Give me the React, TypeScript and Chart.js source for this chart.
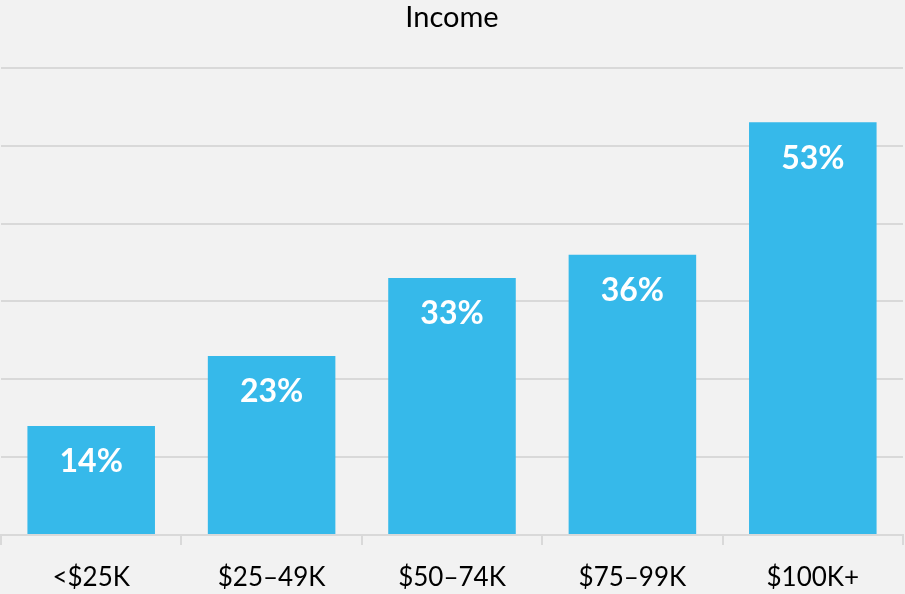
import React, { useEffect, useRef } from "react";
import { Chart, registerables } from "chart.js";

Chart.register(...registerables);

const categories = ["<$25K", "$25–49K", "$50–74K", "$75–99K", "$100K+"];
const values = [14, 23, 33, 36, 53];
const valueLabels = ["14%", "23%", "33%", "36%", "53%"];
const chartTitle = "Income";

const FONT = "Lato, 'Open Sans', sans-serif";

const barLabelPlugin = {
  id: "barLabels",
  afterDatasetsDraw(chart: any) {
    const ctx = chart.ctx;
    const meta = chart.getDatasetMeta(0);
    ctx.save();
    ctx.fillStyle = "#ffffff";
    ctx.font = `bold 32px ${FONT}`;
    ctx.textAlign = "center";
    ctx.textBaseline = "middle";
    meta.data.forEach((bar: any, i: number) => {
      ctx.fillText(valueLabels[i], bar.x, bar.y + 36);
    });
    ctx.restore();
  },
};

const bgPlugin = {
  id: "bg",
  beforeDraw(chart: any) {
    const ctx = chart.ctx;
    ctx.save();
    ctx.fillStyle = "#f2f2f2";
    ctx.fillRect(0, 0, chart.width, chart.height);
    ctx.restore();
  },
};

export default function App() {
  const ref = useRef<HTMLCanvasElement>(null);
  useEffect(() => {
    if (!ref.current) return;
    const chart = new Chart(ref.current, {
      type: "bar",
      data: {
        labels: categories,
        datasets: [
          {
            data: values,
            backgroundColor: "#36b9ea",
            categoryPercentage: 1,
            barPercentage: 0.707,
          },
        ],
      },
      options: {
        animation: false,
        responsive: false,
        maintainAspectRatio: false,
        layout: { padding: { left: 1, right: 2, top: 0, bottom: 0 } },
        plugins: {
          legend: { display: false },
          tooltip: { enabled: false },
          title: {
            display: true,
            text: chartTitle,
            color: "#000000",
            font: { family: FONT, size: 29, weight: "normal" },
            padding: { top: 0, bottom: 33 },
          },
        },
        scales: {
          x: {
            afterFit(scale: any) {
              scale.height = 59;
            },
            grid: {
              display: true,
              drawOnChartArea: false,
              drawTicks: true,
              tickLength: 10,
              color: "#d9d9d9",
              lineWidth: 2,
              offset: true,
            },
            border: { display: true, color: "#d9d9d9", width: 2 },
            ticks: {
              color: "#000000",
              font: { family: FONT, size: 26 },
              padding: 17,
              maxRotation: 0,
            },
          },
          y: {
            min: 0,
            max: 60,
            ticks: { display: false, stepSize: 10 },
            grid: { color: "#d9d9d9", lineWidth: 2, drawTicks: false },
            border: { display: false },
          },
        },
      },
      plugins: [bgPlugin, barLabelPlugin],
    });
    return () => chart.destroy();
  }, []);
  return (
    <div style={{ position: "fixed", left: 0, top: 0, width: 905, height: 594 }}>
      <canvas ref={ref} width={905} height={594} style={{ display: "block" }} />
    </div>
  );
}
